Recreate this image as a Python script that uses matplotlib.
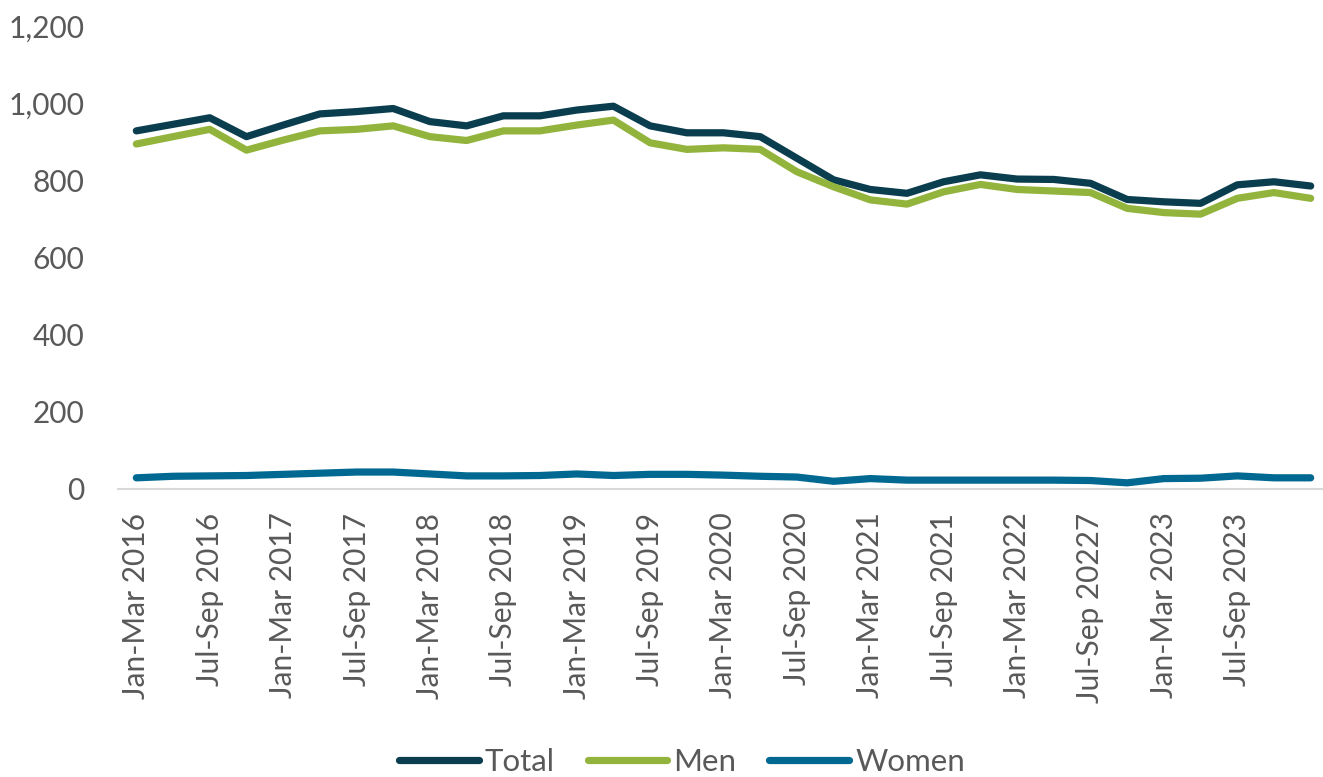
import matplotlib
matplotlib.use("Agg")
import matplotlib.pyplot as plt
from matplotlib.ticker import FuncFormatter, MultipleLocator

plt.rcParams['font.family'] = ['Lato', 'DejaVu Sans']

# quarterly categories (Jan-Mar 2016 ... Jan-Mar 2024); labels as shown on the axis
quarters = [
    "Jan-Mar 2016", "Apr-Jun 2016", "Jul-Sep 2016", "Oct-Dec 2016",
    "Jan-Mar 2017", "Apr-Jun 2017", "Jul-Sep 2017", "Oct-Dec 2017",
    "Jan-Mar 2018", "Apr-Jun 2018", "Jul-Sep 2018", "Oct-Dec 2018",
    "Jan-Mar 2019", "Apr-Jun 2019", "Jul-Sep 2019", "Oct-Dec 2019",
    "Jan-Mar 2020", "Apr-Jun 2020", "Jul-Sep 2020", "Oct-Dec 2020",
    "Jan-Mar 2021", "Apr-Jun 2021", "Jul-Sep 2021", "Oct-Dec 2021",
    "Jan-Mar 2022", "Apr-Jun 2022", "Jul-Sep 20227", "Oct-Dec 2022",
    "Jan-Mar 2023", "Apr-Jun 2023", "Jul-Sep 2023", "Oct-Dec 2023",
    "",
]

total = [929, 946, 963, 914, 944, 973, 979, 987, 953, 942, 968,
         968, 983, 993, 942, 924, 924, 914, 858, 802, 777, 767,
         797, 815, 804, 803, 793, 751, 745, 741, 789, 797, 786]
men = [895, 914, 933, 879, 905, 929, 933, 942, 914, 904, 929,
       929, 944, 957, 898, 881, 885, 881, 823, 784, 750, 739,
       771, 790, 777, 773, 769, 728, 717, 713, 754, 769, 754]
women = [29, 33, 34, 35, 38, 41, 44, 44, 39, 34, 34,
         35, 39, 35, 38, 38, 36, 33, 31, 20, 27, 23,
         23, 23, 23, 23, 22, 16, 27, 28, 34, 29, 29]

c_total = "#0A3D4E"
c_men = "#92B43C"
c_women = "#006891"
c_text = "#595959"

W, H = 1323, 777
fig = plt.figure(figsize=(W / 100, H / 100), dpi=100)
ax = fig.add_axes([118 / W, 1 - 489 / H, 1211 / W, (489 - 26.4) / H])

x = list(range(len(quarters)))
lw = 5.2
kw = dict(linewidth=lw, solid_capstyle='round', solid_joinstyle='round')
ax.plot(x, total, color=c_total, label="Total", **kw)
ax.plot(x, men, color=c_men, label="Men", **kw)
ax.plot(x, women, color=c_women, label="Women", **kw)

ax.set_xlim(-0.5, len(quarters) - 0.5)
ax.set_ylim(0, 1200)
ax.yaxis.set_major_locator(MultipleLocator(200))
ax.yaxis.set_major_formatter(FuncFormatter(lambda v, p: f"{int(v):,}"))

ax.set_xticks(x[::2])
ax.set_xticklabels(quarters[::2], rotation=90, ha='center', va='top')

for s in ['top', 'right', 'left']:
    ax.spines[s].set_visible(False)
ax.spines['bottom'].set_color("#D9D9D9")
ax.spines['bottom'].set_linewidth(1.5)

fs = 21.5
ax.tick_params(axis='y', length=0, pad=24, labelsize=fs, labelcolor=c_text)
ax.tick_params(axis='x', length=0, pad=17, labelsize=fs, labelcolor=c_text)

leg = fig.legend(loc='center', bbox_to_anchor=(682 / W, 1 - 762 / H), ncol=3,
                 frameon=False, fontsize=22.5, handlelength=2.55,
                 handletextpad=0.2, columnspacing=1.05, labelcolor=c_text)

fig.savefig("out.png", dpi=100)
